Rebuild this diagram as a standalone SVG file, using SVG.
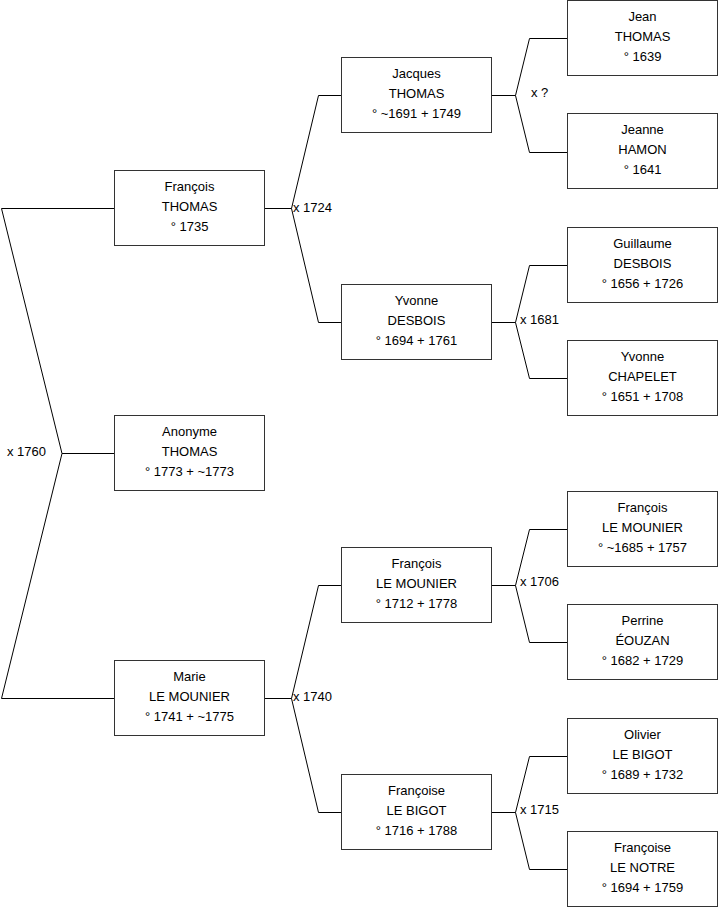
<svg xmlns="http://www.w3.org/2000/svg" width="719" height="908" viewBox="0 0 719 908">
<style>
rect{fill:#fff;stroke:#333;stroke-width:1}
text{font-family:"Liberation Sans",Arial,sans-serif;font-size:13px;fill:#000}
.c text{text-anchor:middle}
#connectors path{fill:none;stroke:#000;stroke-width:1}
</style>
<rect x="0" y="0" width="719" height="908" style="stroke:none;fill:#fff"/>
<g id="connectors">
<path d="M114,208.5H1.5L62,453.5L1.5,698.5H114M62,453.5H114"/>
<path d="M265,208.5H291.5L318.5,95.5H341M291.5,208.5L318.5,322.5H341"/>
<path d="M265,698.5H291.5L318.5,585.5H341M291.5,698.5L318.5,812.5H341"/>
<path d="M492,95.5H515.5L529.5,38.5H567M515.5,95.5L529.5,152.5H567"/>
<path d="M492,322.5H515.5L529.5,265.5H567M515.5,322.5L529.5,378.5H567"/>
<path d="M492,585.5H515.5L529.5,529.5H567M515.5,585.5L529.5,642.5H567"/>
<path d="M492,812.5H515.5L529.5,756.5H567M515.5,812.5L529.5,869.5H567"/>
<text x="7" y="456">x 1760</text>
<text x="293" y="212">x 1724</text>
<text x="293" y="701">x 1740</text>
<text x="531" y="97">x ?</text>
<text x="520" y="324">x 1681</text>
<text x="520" y="586">x 1706</text>
<text x="520" y="814">x 1715</text>
</g>
<g id="n1" class="c"><rect x="114.5" y="170.5" width="150" height="75"/><text x="189.5" y="191">François</text><text x="189.5" y="211">THOMAS</text><text x="189.5" y="231">° 1735</text></g>
<g id="n2" class="c"><rect x="114.5" y="415.5" width="150" height="75"/><text x="189.5" y="436">Anonyme</text><text x="189.5" y="456">THOMAS</text><text x="189.5" y="476">° 1773 + ~1773</text></g>
<g id="n3" class="c"><rect x="114.5" y="660.5" width="150" height="75"/><text x="189.5" y="681">Marie</text><text x="189.5" y="701">LE MOUNIER</text><text x="189.5" y="721">° 1741 + ~1775</text></g>
<g id="n4" class="c"><rect x="341.5" y="57.5" width="150" height="75"/><text x="416.5" y="78">Jacques</text><text x="416.5" y="98">THOMAS</text><text x="416.5" y="118">° ~1691 + 1749</text></g>
<g id="n5" class="c"><rect x="341.5" y="284.5" width="150" height="75"/><text x="416.5" y="305">Yvonne</text><text x="416.5" y="325">DESBOIS</text><text x="416.5" y="345">° 1694 + 1761</text></g>
<g id="n6" class="c"><rect x="341.5" y="547.5" width="150" height="75"/><text x="416.5" y="568">François</text><text x="416.5" y="588">LE MOUNIER</text><text x="416.5" y="608">° 1712 + 1778</text></g>
<g id="n7" class="c"><rect x="341.5" y="774.5" width="150" height="75"/><text x="416.5" y="795">Françoise</text><text x="416.5" y="815">LE BIGOT</text><text x="416.5" y="835">° 1716 + 1788</text></g>
<g id="n8" class="c"><rect x="567.5" y="0.5" width="150" height="75"/><text x="642.5" y="21">Jean</text><text x="642.5" y="41">THOMAS</text><text x="642.5" y="61">° 1639</text></g>
<g id="n9" class="c"><rect x="567.5" y="113.5" width="150" height="75"/><text x="642.5" y="134">Jeanne</text><text x="642.5" y="154">HAMON</text><text x="642.5" y="174">° 1641</text></g>
<g id="n10" class="c"><rect x="567.5" y="227.5" width="150" height="75"/><text x="642.5" y="248">Guillaume</text><text x="642.5" y="268">DESBOIS</text><text x="642.5" y="288">° 1656 + 1726</text></g>
<g id="n11" class="c"><rect x="567.5" y="340.5" width="150" height="75"/><text x="642.5" y="361">Yvonne</text><text x="642.5" y="381">CHAPELET</text><text x="642.5" y="401">° 1651 + 1708</text></g>
<g id="n12" class="c"><rect x="567.5" y="491.5" width="150" height="75"/><text x="642.5" y="512">François</text><text x="642.5" y="532">LE MOUNIER</text><text x="642.5" y="552">° ~1685 + 1757</text></g>
<g id="n13" class="c"><rect x="567.5" y="604.5" width="150" height="75"/><text x="642.5" y="625">Perrine</text><text x="642.5" y="645">ÉOUZAN</text><text x="642.5" y="665">° 1682 + 1729</text></g>
<g id="n14" class="c"><rect x="567.5" y="718.5" width="150" height="75"/><text x="642.5" y="739">Olivier</text><text x="642.5" y="759">LE BIGOT</text><text x="642.5" y="779">° 1689 + 1732</text></g>
<g id="n15" class="c"><rect x="567.5" y="831.5" width="150" height="75"/><text x="642.5" y="852">Françoise</text><text x="642.5" y="872">LE NOTRE</text><text x="642.5" y="892">° 1694 + 1759</text></g>
</svg>
